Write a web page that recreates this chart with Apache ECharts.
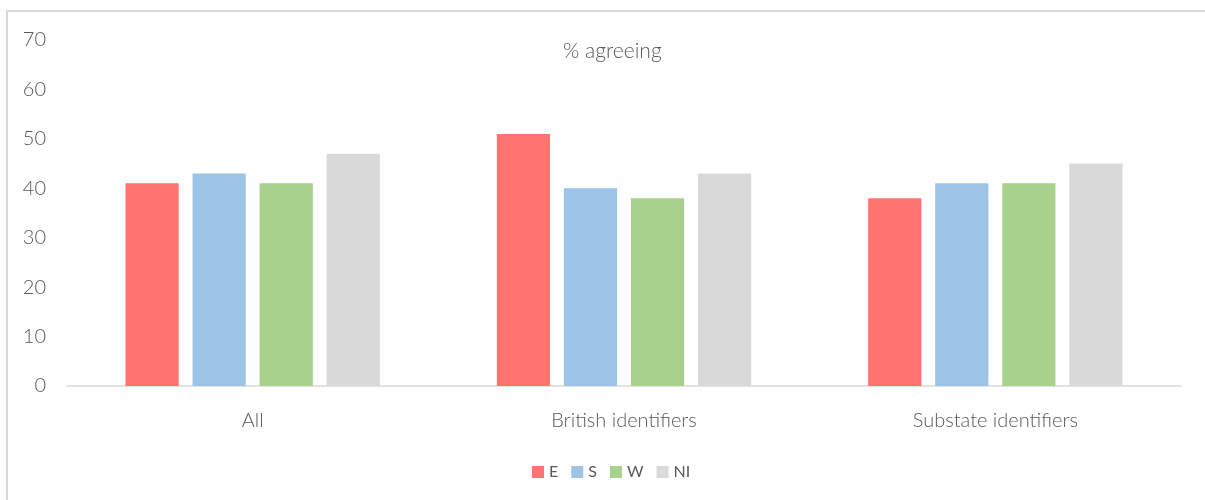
<!DOCTYPE html>
<html>
<head>
<meta charset="utf-8">
<script src="https://cdn.jsdelivr.net/npm/echarts@6/dist/echarts.min.js"></script>
<style>
  html, body { margin: 0; padding: 0; background: #fff; }
  #chart { width: 1205px; height: 500px; }
</style>
</head>
<body>
<div id="chart"></div>
<script>
// categories and series values
const categories = ['All', 'British identifiers', 'Substate identifiers']
const seriesNames = ['E', 'S', 'W', 'NI']
const valuesE = [41, 51, 38]
const valuesS = [43, 40, 41]
const valuesW = [41, 38, 41]
const valuesNI = [47, 43, 45]
const colors = ['#ff7370', '#9dc3e6', '#a9d18e', '#d9d9d9']

const font = 'Lato, "Open Sans", sans-serif'
const textColor = '#595959'

const myChart = echarts.init(document.getElementById('chart'))

const seriesData = [valuesE, valuesS, valuesW, valuesNI]

const option = {
    animation: false,
    title: {
        text: '% agreeing',
        left: 558,
        top: 36,
        textStyle: { fontFamily: font, fontSize: 21, fontWeight: 300, color: textColor }
    },
    legend: {
        data: seriesNames,
        bottom: 15,
        left: 527,
        icon: 'rect',
        itemWidth: 12,
        itemHeight: 12,
        itemGap: 13,
        textStyle: { fontFamily: font, fontSize: 16, color: textColor }
    },
    graphic: [{
        type: 'rect',
        shape: { x: 7, y: 11, width: 1400, height: 700 },
        style: { fill: 'none', stroke: '#d9d9d9', lineWidth: 2 },
        silent: true
    }],
    grid: {
        top: 40,
        left: 67,
        right: 24,
        bottom: 114
    },
    xAxis: {
        type: 'category',
        data: categories,
        axisLine: { lineStyle: { color: '#d9d9d9', width: 1.5 } },
        axisTick: { show: false },
        axisLabel: { fontFamily: font, fontSize: 20, fontWeight: 300, color: textColor, margin: 25 }
    },
    yAxis: {
        type: 'value',
        min: 0,
        max: 70,
        interval: 10,
        axisLine: { show: false },
        axisTick: { show: false },
        splitLine: { show: false },
        axisLabel: { fontFamily: font, fontSize: 20, fontWeight: 300, color: textColor, margin: 21 }
    },
    series: seriesNames.map((name, i) => ({
        name: name,
        type: 'bar',
        data: seriesData[i],
        barGap: '26%',
        barCategoryGap: '31.5%',
        itemStyle: { color: colors[i] }
    }))
}

myChart.setOption(option)
window.addEventListener('resize', () => myChart.resize())
</script>
</body>
</html>
